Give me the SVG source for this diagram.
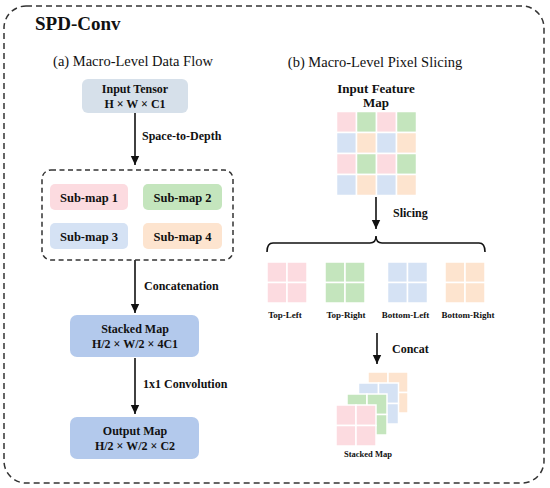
<svg xmlns="http://www.w3.org/2000/svg" width="550" height="488" viewBox="0 0 550 488">
<defs>
<style>
.t{font-family:"Liberation Serif","Times New Roman",serif;fill:#111}
.b{font-weight:bold}
.c{text-anchor:middle}
.conn{stroke:#111;stroke-width:1.6;fill:none}
.pk{fill:#fcdbe0}.gr{fill:#c4e5bd}.bl{fill:#d5e2f4}.or{fill:#fde4cf}
.cell{stroke:#fff;stroke-width:1.5}
</style>
<marker id="ah" markerUnits="userSpaceOnUse" markerWidth="10" markerHeight="10" refX="9" refY="5" orient="auto">
<path d="M0,0.8 L9,5 L0,9.2 Z" fill="#111"/>
</marker>
<g id="g2">
<rect class="cell" x="0" y="0" width="20" height="20.5"/>
<rect class="cell" x="20" y="0" width="20" height="20.5"/>
<rect class="cell" x="0" y="20.5" width="20" height="20.5"/>
<rect class="cell" x="20" y="20.5" width="20" height="20.5"/>
</g>
</defs>
<rect width="550" height="488" fill="#fff"/>
<rect x="4" y="6" width="540" height="477" rx="22" fill="none" stroke="#333" stroke-width="1.5" stroke-dasharray="6 4"/>
<text class="t b" x="35" y="30" font-size="19">SPD-Conv</text>
<text class="t c" x="133" y="66" font-size="14.5">(a) Macro-Level Data Flow</text>
<text class="t c" x="375" y="67" font-size="14.5">(b) Macro-Level Pixel Slicing</text>

<g id="connectors">
<line class="conn" x1="135" y1="113" x2="135" y2="165" marker-end="url(#ah)"/>
<line class="conn" x1="135" y1="260" x2="135" y2="313" marker-end="url(#ah)"/>
<line class="conn" x1="135" y1="358" x2="135" y2="414" marker-end="url(#ah)"/>
<line class="conn" x1="376" y1="197" x2="376" y2="229" marker-end="url(#ah)"/>
<path class="conn" stroke-width="1.5" d="M267,252 Q267,243 273,243 L370,243 Q376,243 376,236 Q376,243 382,243 L479,243 Q485,243 485,252"/>
<line class="conn" x1="377" y1="333" x2="377" y2="364" marker-end="url(#ah)"/>
<text class="t b" x="142" y="140" font-size="12">Space-to-Depth</text>
<text class="t b" x="144" y="290" font-size="12">Concatenation</text>
<text class="t b" x="143" y="388" font-size="12">1x1 Convolution</text>
<text class="t b" x="393" y="217" font-size="12">Slicing</text>
<text class="t b" x="392" y="353" font-size="12">Concat</text>
</g>

<g id="input-tensor">
<rect x="82" y="79" width="106" height="34" rx="6" fill="#d6e0ea"/>
<text class="t b c" x="135" y="93" font-size="12">Input Tensor</text>
<text class="t b c" x="135" y="108" font-size="12">H × W × C1</text>
</g>

<g id="sub-maps">
<rect x="42" y="170" width="191" height="90" rx="9" fill="none" stroke="#333" stroke-width="1.5" stroke-dasharray="5 3.5"/>
<g id="sub-map-1"><rect class="pk" x="50" y="184" width="78" height="26" rx="5"/><text class="t b c" x="89" y="201.5" font-size="12.5">Sub-map 1</text></g>
<g id="sub-map-2"><rect class="gr" x="143" y="184" width="79" height="26" rx="5"/><text class="t b c" x="182.5" y="201.5" font-size="12.5">Sub-map 2</text></g>
<g id="sub-map-3"><rect class="bl" x="50" y="223" width="78" height="26" rx="5"/><text class="t b c" x="89" y="240.5" font-size="12.5">Sub-map 3</text></g>
<g id="sub-map-4"><rect class="or" x="143" y="223" width="79" height="26" rx="5"/><text class="t b c" x="182.5" y="240.5" font-size="12.5">Sub-map 4</text></g>
</g>

<g id="stacked-map">
<rect x="70" y="315" width="129" height="42" rx="7" fill="#b3c9ec"/>
<text class="t b c" x="135" y="333" font-size="12">Stacked Map</text>
<text class="t b c" x="135" y="348" font-size="12">H/2 × W/2 × 4C1</text>
</g>

<g id="output-map">
<rect x="70" y="417" width="129" height="42" rx="7" fill="#b3c9ec"/>
<text class="t b c" x="135" y="435" font-size="12">Output Map</text>
<text class="t b c" x="135" y="450" font-size="12">H/2 × W/2 × C2</text>
</g>

<g id="input-feature-map">
<text class="t b c" x="376" y="93" font-size="13">Input Feature</text>
<text class="t b c" x="376" y="107" font-size="13">Map</text>
<g transform="translate(336.5,111.5)">
<rect class="cell pk" x="0" y="0" width="20" height="21"/>
<rect class="cell gr" x="20" y="0" width="20" height="21"/>
<rect class="cell pk" x="40" y="0" width="20" height="21"/>
<rect class="cell gr" x="60" y="0" width="20" height="21"/>
<rect class="cell bl" x="0" y="21" width="20" height="21"/>
<rect class="cell or" x="20" y="21" width="20" height="21"/>
<rect class="cell bl" x="40" y="21" width="20" height="21"/>
<rect class="cell or" x="60" y="21" width="20" height="21"/>
<rect class="cell pk" x="0" y="42" width="20" height="21"/>
<rect class="cell gr" x="20" y="42" width="20" height="21"/>
<rect class="cell pk" x="40" y="42" width="20" height="21"/>
<rect class="cell gr" x="60" y="42" width="20" height="21"/>
<rect class="cell bl" x="0" y="63" width="20" height="21"/>
<rect class="cell or" x="20" y="63" width="20" height="21"/>
<rect class="cell bl" x="40" y="63" width="20" height="21"/>
<rect class="cell or" x="60" y="63" width="20" height="21"/>
</g>
</g>

<g id="top-left"><use href="#g2" class="pk" x="267" y="262"/><text class="t b c" x="285" y="318" font-size="9">Top-Left</text></g>
<g id="top-right"><use href="#g2" class="gr" x="325" y="262"/><text class="t b c" x="346" y="318" font-size="9">Top-Right</text></g>
<g id="bottom-left"><use href="#g2" class="bl" x="387.5" y="262"/><text class="t b c" x="405.5" y="318" font-size="9">Bottom-Left</text></g>
<g id="bottom-right"><use href="#g2" class="or" x="445" y="262"/><text class="t b c" x="468" y="318" font-size="9">Bottom-Right</text></g>

<g id="stacked-layers">
<use href="#g2" class="or" x="368" y="372"/>
<use href="#g2" class="bl" x="358.5" y="383"/>
<use href="#g2" class="gr" x="347" y="394"/>
<use href="#g2" class="pk" x="336" y="405"/>
<text class="t b c" x="368" y="457" font-size="8.5">Stacked Map</text>
</g>
</svg>
